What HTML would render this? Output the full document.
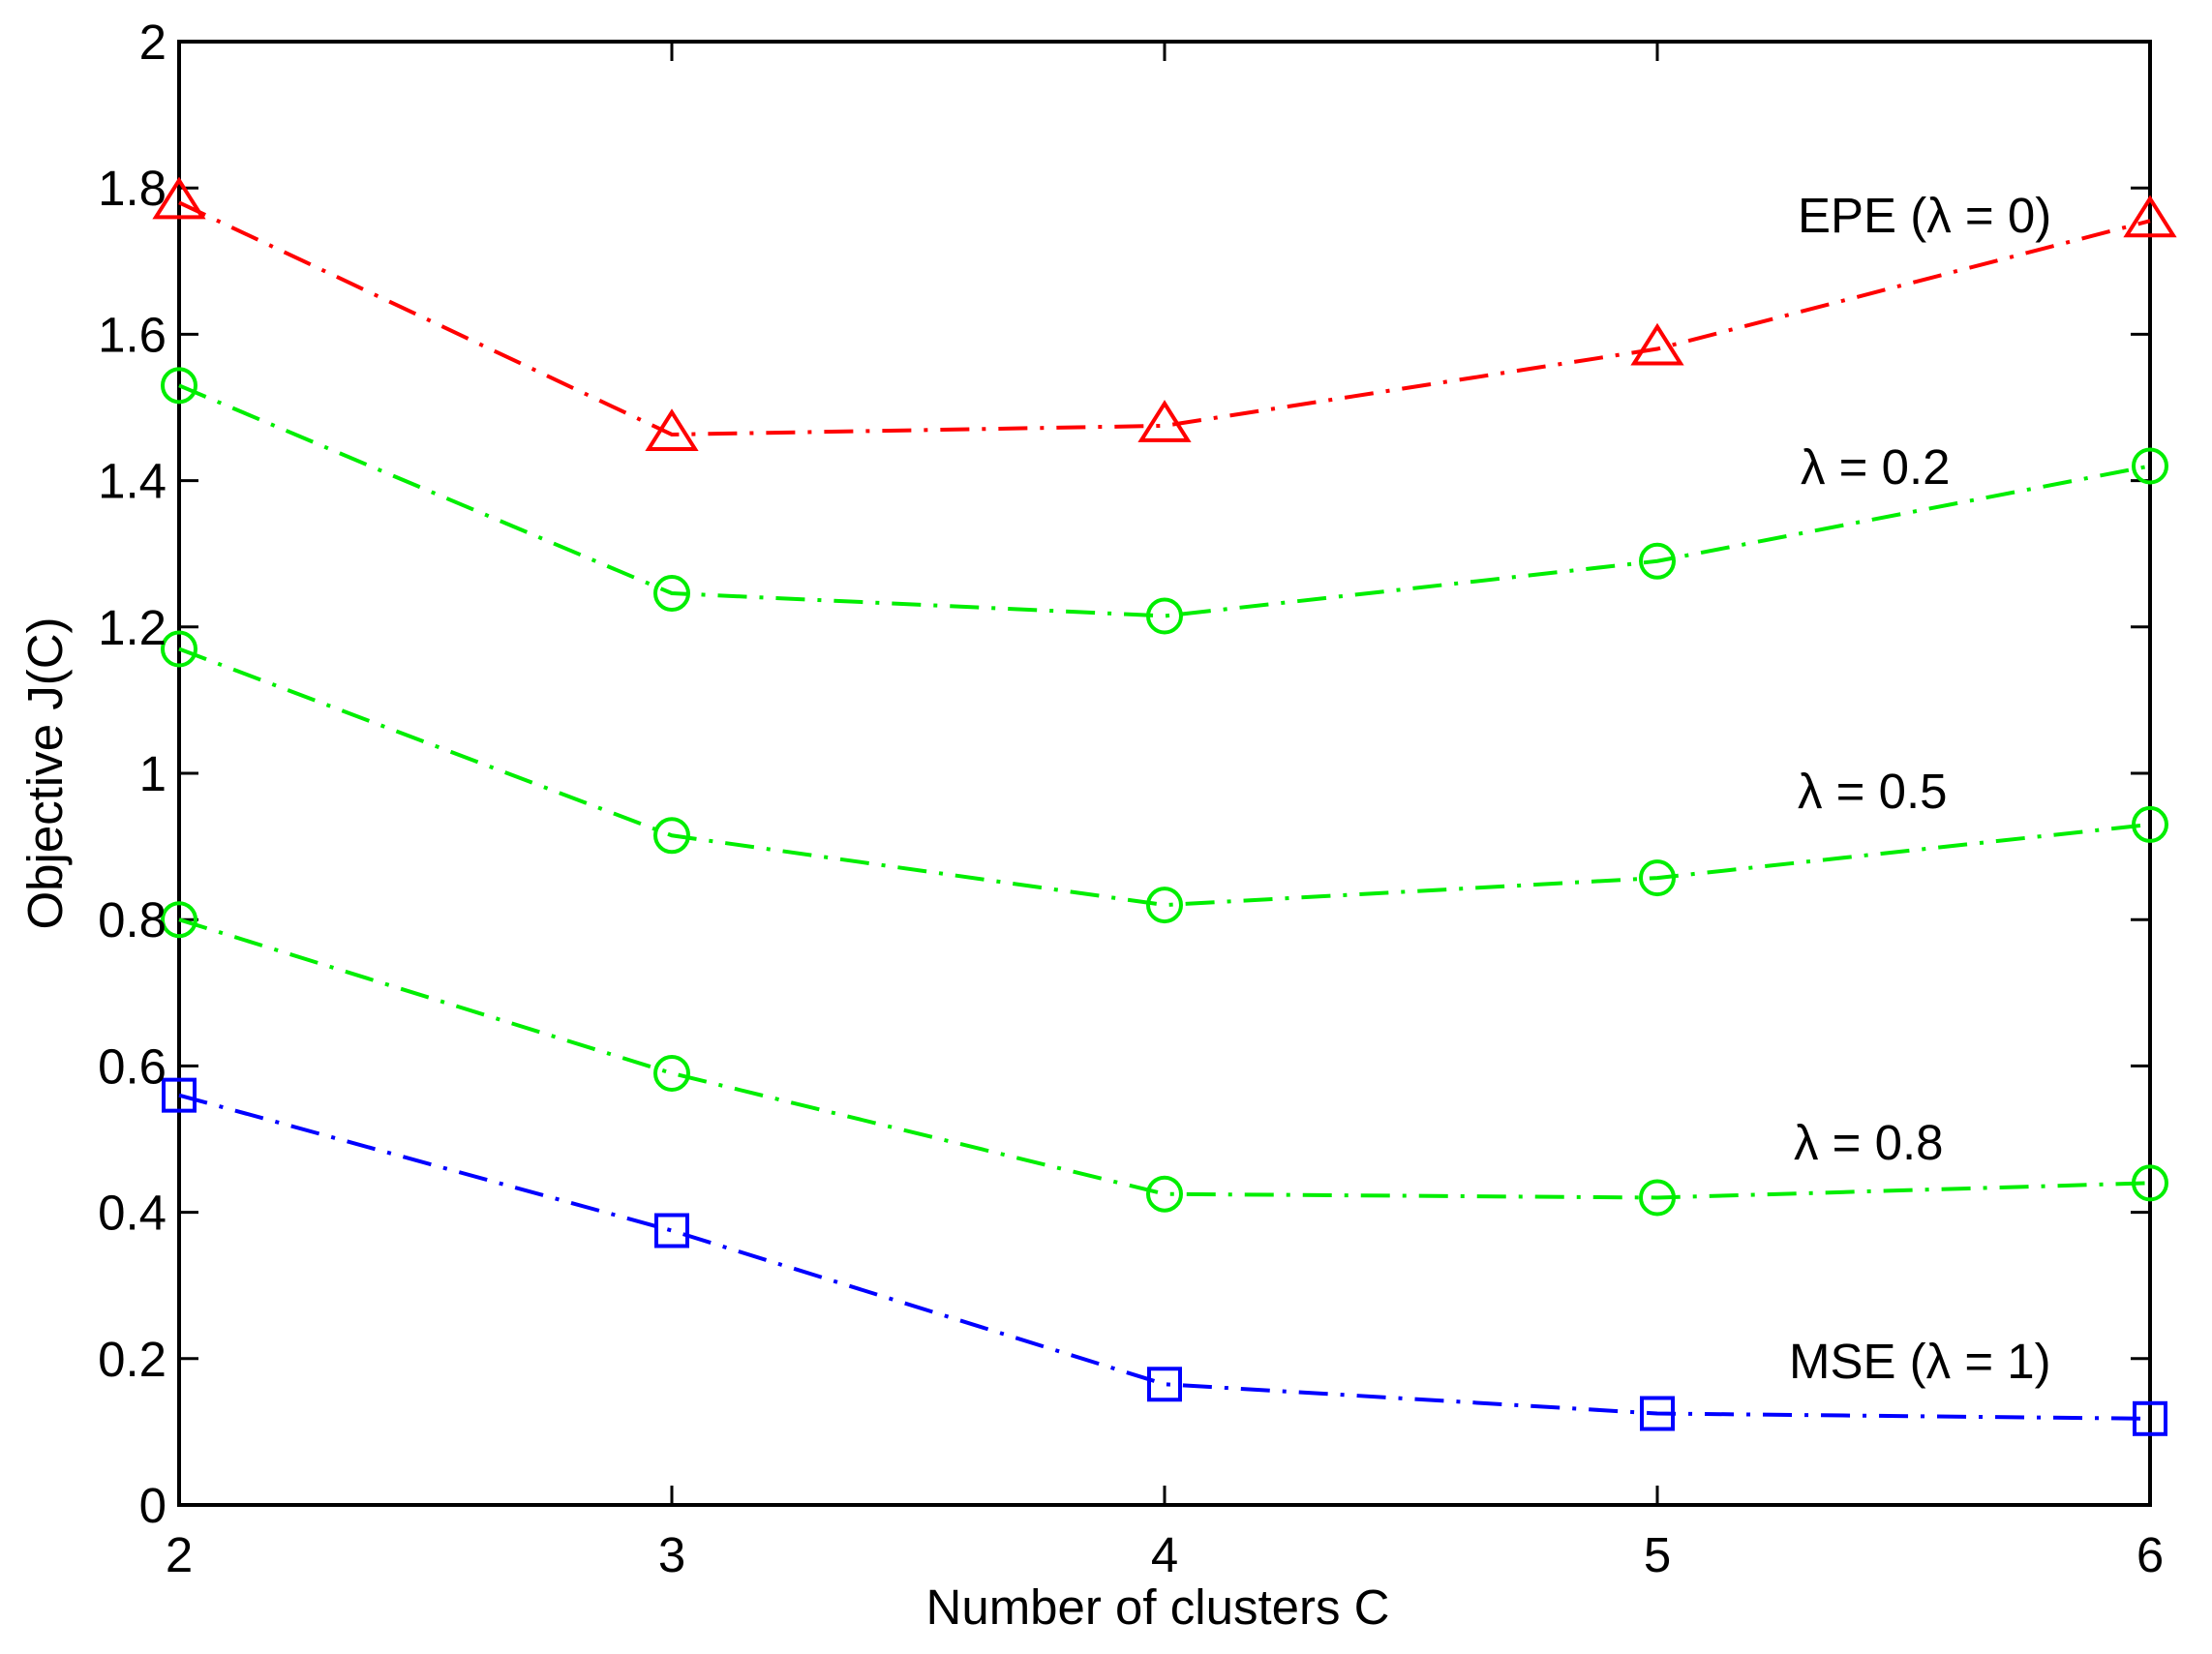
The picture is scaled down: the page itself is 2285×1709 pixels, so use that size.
<!DOCTYPE html>
<html><head><meta charset="utf-8"><style>body{margin:0;background:#fff}svg{display:block}text{font-family:"Liberation Sans",Arial,sans-serif;font-size:51px;fill:#000}</style></head>
<body>
<svg width="2285" height="1709" viewBox="0 0 2285 1709" xmlns="http://www.w3.org/2000/svg">
<rect width="2285" height="1709" fill="#fff"/>
<g id="ticks" stroke="#000" stroke-width="3">
<rect x="185" y="43" width="2036" height="1512" fill="none" stroke-width="4"/>
</g>
<g id="plot"></g>
<g text-anchor="middle">
<text x="185" y="1624">2</text><text x="694" y="1624">3</text><text x="1203" y="1624">4</text><text x="1712" y="1624">5</text><text x="2221" y="1624">6</text>
<text x="1196" y="1678">Number of clusters C</text>
<text transform="translate(64,799) rotate(-90)">Objective J(C)</text>
</g>
<g text-anchor="end" id="ylab"></g>
<text x="1857" y="240">EPE (λ = 0)</text>
<text x="1860" y="500">λ = 0.2</text>
<text x="1857" y="835">λ = 0.5</text>
<text x="1853" y="1198">λ = 0.8</text>
<text x="1848" y="1424">MSE (λ = 1)</text>
<script>
const X=i=>185+509*i, Y=v=>1555-756*v;
const ns="http://www.w3.org/2000/svg";
const t=document.getElementById('ticks'), yl=document.getElementById('ylab'), p=document.getElementById('plot');
function el(par,tag,a,txt){const e=document.createElementNS(ns,tag);for(const k in a)e.setAttribute(k,a[k]);if(txt!==undefined)e.textContent=txt;par.appendChild(e);return e;}
for(let i=0;i<=10;i++){const v=i*0.2,y=Y(v);
 el(t,'line',{x1:185,x2:205,y1:y,y2:y});el(t,'line',{x1:2221,x2:2201,y1:y,y2:y});
 el(yl,'text',{x:172,y:y+18},(Math.round(v*10)/10).toString());}
for(let i=0;i<5;i++){const x=X(i);el(t,'line',{x1:x,x2:x,y1:1555,y2:1535});el(t,'line',{x1:x,x2:x,y1:43,y2:63});}
const S=[
 ['#ff0000','tri',[1.78,1.463,1.475,1.58,1.755]],
 ['#00ee00','c',[1.53,1.246,1.215,1.29,1.42]],
 ['#00ee00','c',[1.17,0.915,0.82,0.857,0.93]],
 ['#00ee00','c',[0.80,0.59,0.425,0.42,0.44]],
 ['#0000ff','sq',[0.56,0.375,0.165,0.125,0.118]]];
for(const [c,m,d] of S){
 el(p,'polyline',{points:d.map((v,i)=>X(i)+','+Y(v)).join(' '),fill:'none',stroke:c,'stroke-width':4,'stroke-dasharray':'30 13 4 13'});
 d.forEach((v,i)=>{const x=X(i),y=Y(v);
  if(m=='tri')el(p,'polygon',{points:`${x},${y-23} ${x-24},${y+15} ${x+24},${y+15}`,fill:'none',stroke:c,'stroke-width':4});
  else if(m=='c')el(p,'circle',{cx:x,cy:y,r:17,fill:'none',stroke:c,'stroke-width':4});
  else el(p,'rect',{x:x-16,y:y-16,width:32,height:32,fill:'none',stroke:c,'stroke-width':4});});
}
</script>
</svg>
</body></html>
